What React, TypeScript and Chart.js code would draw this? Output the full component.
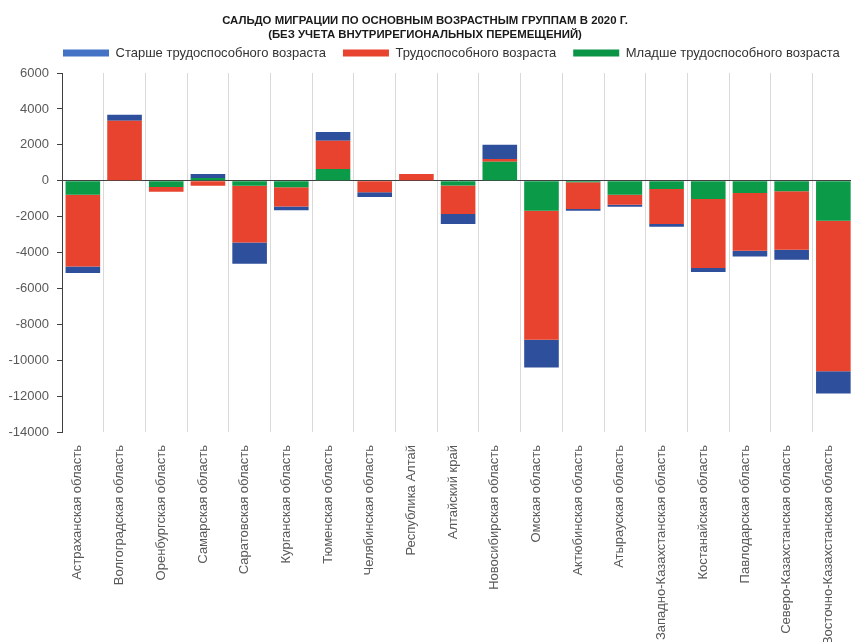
import { useEffect, useRef } from "react";
import { Chart, registerables } from "chart.js";

Chart.register(...registerables);

const categories = [
  "Астраханская область",
  "Волгоградская область",
  "Оренбургская область",
  "Самарская область",
  "Саратовская область",
  "Курганская область",
  "Тюменская область",
  "Челябинская область",
  "Республика Алтай",
  "Алтайский край",
  "Новосибирская область",
  "Омская область",
  "Актюбинская область",
  "Атырауская область",
  "Западно-Казахстанская область",
  "Костанайская область",
  "Павлодарская область",
  "Северо-Казахстанская область",
  "Восточно-Казахстанская область",
];

// Младше трудоспособного возраста
const youngerValues = [-780, 0, -350, 150, -280, -370, 650, 0, 0, -260, 1060, -1670, -80, -780, -460, -1020, -690, -590, -2230];
// Трудоспособного возраста
const workingValues = [-4000, 3340, -260, -280, -3155, -1060, 1580, -640, 370, -1595, 150, -7190, -1500, -560, -1950, -3845, -3210, -3250, -8390];
// Старше трудоспособного возраста
const olderValues = [-365, 340, 0, 220, -1190, -220, 485, -270, 0, -555, 800, -1540, -90, -110, -150, -225, -315, -560, -1240];

const seriesNames = [
  "Младше трудоспособного возраста",
  "Трудоспособного возраста",
  "Старше трудоспособного возраста",
];
const barColors = ["#0a9a48", "#e8432e", "#2e4f9c"];
const legendColors = ["#0a9446", "#e8432e", "#4472c4"];

const titleLines = [
  "САЛЬДО МИГРАЦИИ ПО ОСНОВНЫМ ВОЗРАСТНЫМ ГРУППАМ В 2020 Г.",
  "(БЕЗ УЧЕТА ВНУТРИРЕГИОНАЛЬНЫХ ПЕРЕМЕЩЕНИЙ)",
];

const yMin = -14000;
const yMax = 6000;
const yStep = 2000;

const FONT = "'Liberation Sans', Arial, sans-serif";

const layoutTweaks = {
  id: "layoutTweaks",
  beforeLayout(chart: any) {
    const leg = chart.legend;
    if (leg && !leg.__wrapped) {
      const orig = leg.fit.bind(leg);
      leg.fit = () => {
        orig();
        leg.height = 30.4;
      };
      leg.__wrapped = true;
    }
  },
  afterLayout(chart: any) {
    const leg = chart.legend;
    if (leg && leg.lineWidths) {
      const pad = leg.options.labels.padding;
      const lw = leg.lineWidths[0];
      const start = (leg.left + pad + leg.right - lw) / 2;
      const dx = 63 - start;
      leg.left += dx;
      leg.right += dx;
      const h = leg.height;
      leg.top = 29.5;
      leg.bottom = 29.5 + h;
    }
    const t = chart.titleBlock;
    if (t) {
      const c = (t.left + t.right) / 2;
      const dx = 425 - c;
      t.left += dx;
      t.right += dx;
    }
  },
};

export default function App() {
  const ref = useRef<HTMLCanvasElement | null>(null);

  useEffect(() => {
    if (!ref.current) return;
    const values = [youngerValues, workingValues, olderValues];
    const chart = new Chart(ref.current, {
      type: "bar",
      data: {
        labels: categories,
        datasets: seriesNames.map((name, i) => ({
          label: name,
          data: values[i],
          backgroundColor: barColors[i],
          borderWidth: 0,
          barPercentage: 0.83,
          categoryPercentage: 1,
          stack: "s",
        })),
      },
      options: {
        animation: false,
        responsive: false,
        devicePixelRatio: 1,
        layout: { padding: { left: 0, right: 2, top: 0, bottom: 0 } },
        plugins: {
          title: {
            display: true,
            text: titleLines,
            color: "#1a1a1a",
            font: { family: FONT, size: 11.4, weight: "bold", lineHeight: 1.3 },
            padding: { top: 13, bottom: 0 },
          },
          legend: {
            display: true,
            reverse: true,
            labels: {
              boxWidth: 46,
              boxHeight: 7,
              padding: 17,
              color: "#333333",
              font: { family: FONT, size: 13 },
              generateLabels: (c: any) => {
                const items = (Chart.defaults.plugins.legend.labels as any).generateLabels(c);
                return items.map((it: any) => ({
                  ...it,
                  fillStyle: legendColors[it.datasetIndex],
                  strokeStyle: legendColors[it.datasetIndex],
                  lineWidth: 0,
                }));
              },
            },
          },
          tooltip: { enabled: false },
        },
        scales: {
          x: {
            stacked: true,
            afterFit: (s: any) => {
              s.height = 210;
            },
            grid: {
              display: true,
              offset: true,
              color: "#d9d9d9",
              lineWidth: 1,
              drawTicks: false,
            },
            border: { display: false },
            ticks: {
              autoSkip: false,
              maxRotation: 90,
              minRotation: 90,
              labelOffset: -5,
              padding: 13,
              color: "#595959",
              font: { family: FONT, size: 13 },
            },
          },
          y: {
            stacked: true,
            min: yMin,
            max: yMax,
            z: 1,
            afterFit: (s: any) => {
              s.width = 62;
            },
            grid: {
              color: (ctx: any) => (ctx.tick && ctx.tick.value === 0 ? "#404040" : "rgba(0,0,0,0)"),
              tickColor: "#404040",
              tickLength: 5,
              drawTicks: true,
              lineWidth: 1,
            },
            border: { display: true, color: "#404040", width: 1 },
            ticks: {
              stepSize: yStep,
              padding: 8,
              color: "#595959",
              font: { family: FONT, size: 13 },
              callback: (v: any) => String(v),
            },
          },
        },
      },
      plugins: [layoutTweaks],
    } as any);
    return () => chart.destroy();
  }, []);

  return (
    <div
      style={{
        position: "fixed",
        left: 0,
        top: 0,
        width: 851,
        height: 642,
        overflow: "hidden",
        background: "#ffffff",
      }}
    >
      <canvas ref={ref} width={862} height={642} style={{ display: "block", width: 862, height: 642 }} />
    </div>
  );
}
